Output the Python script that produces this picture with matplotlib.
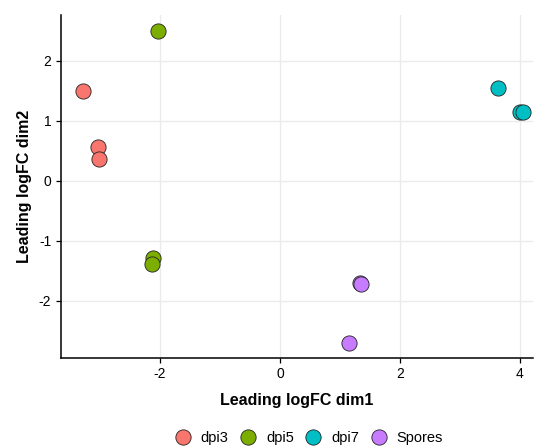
import matplotlib
matplotlib.use("Agg")
import matplotlib.pyplot as plt
from matplotlib.lines import Line2D

plt.rcParams['font.family'] = ['Liberation Sans', 'DejaVu Sans']
plt.rcParams['axes.unicode_minus'] = False

groups = ["dpi3", "dpi5", "dpi7", "Spores"]
colors = ["#F8766D", "#7CAE00", "#00BFC4", "#C77CFF"]

dim1 = {
    "dpi3": [-3.29, -3.04, -3.02],
    "dpi5": [-2.03, -2.12, -2.14],
    "dpi7": [3.63, 4.01, 4.05],
    "Spores": [1.34, 1.345, 1.16],
}
dim2 = {
    "dpi3": [1.50, 0.57, 0.37],
    "dpi5": [2.50, -1.28, -1.38],
    "dpi7": [1.55, 1.15, 1.15],
    "Spores": [-1.70, -1.715, -2.71],
}

xticks = [-2, 0, 2, 4]
yticks = [-2, -1, 0, 1, 2]

fig = plt.figure(figsize=(5.34, 4.46), dpi=100)
ax = fig.add_axes([0.1142, 0.198, 0.884, 0.768])

for g, c in zip(groups, colors):
    ax.scatter(dim1[g], dim2[g], s=120, c=c, edgecolors="#222222",
               linewidths=0.6, zorder=3)

ax.set_xlim(-3.65, 4.22)
ax.set_ylim(-2.95, 2.76)
ax.set_xticks(xticks)
ax.set_yticks(yticks)
ax.grid(True, color="#EBEBEB", linewidth=1.0, zorder=0)
ax.set_axisbelow(True)
for s in ["top", "right"]:
    ax.spines[s].set_visible(False)
for s in ["left", "bottom"]:
    ax.spines[s].set_color("black")
    ax.spines[s].set_linewidth(1.1)
ax.tick_params(axis="both", labelsize=10, colors="black", length=3.5, width=0.9)

ax.set_xlabel("Leading logFC dim1", fontsize=11.5, fontweight="bold", labelpad=8)
ax.set_ylabel("Leading logFC dim2", fontsize=11.5, fontweight="bold", labelpad=5)

handles = [Line2D([0], [0], marker="o", linestyle="", markersize=11,
                  markerfacecolor=c, markeredgecolor="#222222",
                  markeredgewidth=0.6) for c in colors]
fig.legend(handles, groups, loc="center", bbox_to_anchor=(0.577, 0.017),
           ncol=4, frameon=False, fontsize=10.5, handletextpad=0.55,
           columnspacing=0.7, handlelength=1.3)

fig.savefig("out.png", dpi=100)
